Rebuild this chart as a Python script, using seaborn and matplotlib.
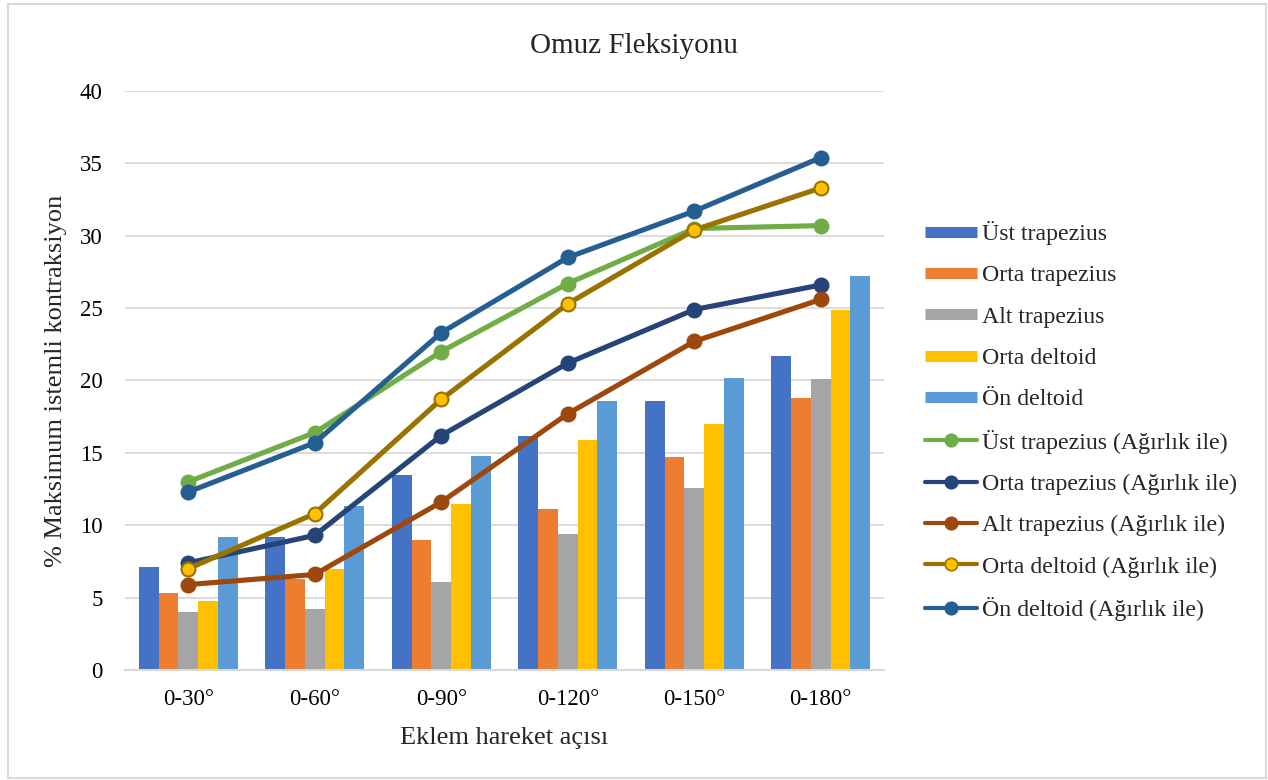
import matplotlib
matplotlib.use("Agg")
import matplotlib.pyplot as plt
from matplotlib.lines import Line2D
from matplotlib.patches import Rectangle
import numpy as np
import pandas as pd
import seaborn as sns

# Joint range categories
angles = ["0-30°", "0-60°", "0-90°", "0-120°", "0-150°", "0-180°"]

# Without load (bars)
bar_names = ["Üst trapezius", "Orta trapezius", "Alt trapezius", "Orta deltoid", "Ön deltoid"]
ust_trapezius = [7.1, 9.2, 13.5, 16.2, 18.6, 21.7]
orta_trapezius = [5.3, 6.3, 9.0, 11.1, 14.7, 18.8]
alt_trapezius = [4.0, 4.2, 6.1, 9.4, 12.6, 20.1]
orta_deltoid = [4.8, 7.0, 11.5, 15.9, 17.0, 24.9]
on_deltoid = [9.2, 11.3, 14.8, 18.6, 20.2, 27.2]

# With load (lines)
line_names = ["Üst trapezius (Ağırlık ile)", "Orta trapezius (Ağırlık ile)",
              "Alt trapezius (Ağırlık ile)", "Orta deltoid (Ağırlık ile)",
              "Ön deltoid (Ağırlık ile)"]
ust_trapezius_w = [13.0, 16.4, 22.0, 26.7, 30.5, 30.7]
orta_trapezius_w = [7.4, 9.3, 16.2, 21.2, 24.9, 26.6]
alt_trapezius_w = [5.9, 6.6, 11.6, 17.7, 22.7, 25.6]
orta_deltoid_w = [7.0, 10.8, 18.7, 25.3, 30.4, 33.3]
on_deltoid_w = [12.3, 15.7, 23.3, 28.5, 31.7, 35.4]

bar_colors = ["#4472C4", "#ED7D31", "#A5A5A5", "#FFC000", "#5B9BD5"]
line_colors = ["#70AD47", "#264478", "#9E480E", "#997300", "#255E91"]
marker_faces = ["#70AD47", "#264478", "#9E480E", "#FFC000", "#255E91"]

sns.set_theme(style="white")
plt.rcParams["font.family"] = ["Liberation Serif", "DejaVu Serif"]

fig = plt.figure(figsize=(12.68, 7.8), dpi=100)
ax = fig.add_axes([125 / 1268, 1 - 670 / 780, 759 / 1268, 579 / 780])

bar_series = [ust_trapezius, orta_trapezius, alt_trapezius, orta_deltoid, on_deltoid]
df = pd.DataFrame({
    "angle": np.tile(angles, len(bar_names)),
    "muscle": np.repeat(bar_names, len(angles)),
    "value": np.concatenate(bar_series),
})
sns.barplot(data=df, x="angle", y="value", hue="muscle", order=angles,
            hue_order=bar_names, palette=bar_colors, saturation=1, width=0.78,
            errorbar=None, legend=False, ax=ax, zorder=2, linewidth=0)

line_series = [ust_trapezius_w, orta_trapezius_w, alt_trapezius_w, orta_deltoid_w, on_deltoid_w]
for vals, col, face in zip(line_series, line_colors, marker_faces):
    sns.pointplot(x=angles, y=vals, order=angles, color=col, errorbar=None,
                  markers="o", markersize=10, linewidth=3.7,
                  markerfacecolor=face, markeredgecolor=col, markeredgewidth=1.5,
                  ax=ax, zorder=3)

ax.set_xlim(-0.5, 5.5)
ax.set_ylim(0, 40)
ax.set_yticks(range(0, 41, 5))
ax.set_xticks(range(len(angles)))
ax.set_xticklabels(angles)
ax.grid(axis="y", color="#D9D9D9", linewidth=1.3, zorder=0)
ax.set_axisbelow(True)
for s in ["left", "right", "top"]:
    ax.spines[s].set_visible(False)
ax.spines["bottom"].set_color("#D9D9D9")
ax.spines["bottom"].set_linewidth(1.5)
ax.tick_params(axis="both", length=0, labelsize=16.5, colors="#000000")
ax.tick_params(axis="y", pad=16)
ax.tick_params(axis="x", pad=14)

ax.set_xlabel("Eklem hareket açısı", fontsize=19)
ax.set_ylabel("% Maksimum istemli kontraksiyon", fontsize=19)
ax.xaxis.set_label_coords(0.5, -0.098)
ax.yaxis.set_label_coords(-0.076, 0.5)

fig.text(0.5, 1 - 46 / 780, "Omuz Fleksiyonu", ha="center", va="center", fontsize=21)

handles = [Line2D([], [], color=c, linewidth=8, solid_capstyle="butt") for c in bar_colors]
handles += [Line2D([], [], color=c, linewidth=3, marker="o", markersize=9,
                   markerfacecolor=f, markeredgecolor=c, markeredgewidth=1.2)
            for c, f in zip(line_colors, marker_faces)]
fig.legend(handles, bar_names + line_names, loc="upper left",
           bbox_to_anchor=(925 / 1268, 1 - 221 / 780), frameon=False,
           fontsize=17.2, handlelength=2.18, handletextpad=0.2,
           labelspacing=0.82, borderpad=0, borderaxespad=0)

fig.patches.append(Rectangle((8 / 1268, 2 / 780), 1258 / 1268, 774 / 780,
                             transform=fig.transFigure, fill=False,
                             edgecolor="#D9D9D9", linewidth=1.5))

fig.savefig("out.png", dpi=100)
